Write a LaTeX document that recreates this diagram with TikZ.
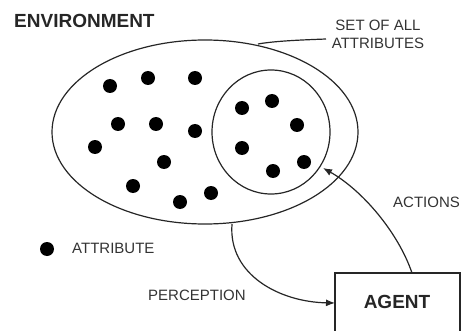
\documentclass[tikz,border=0pt]{standalone}
\usepackage{fontspec}
\setmainfont{Liberation Sans}
\usetikzlibrary{arrows.meta,shapes.geometric}
\begin{document}
\begin{tikzpicture}[x=1pt,y=-1pt,
  line/.style={line width=1.2pt,black!85},
  attr/.style={circle,fill=black,inner sep=0pt,minimum size=14pt},
  lbl/.style={font=\fontsize{15}{18}\selectfont,text=black!80,inner sep=0pt},
  arr/.style={line,-{Latex[length=9pt,width=7pt]}}]
\useasboundingbox (0,0) rectangle (462,331);
\clip (0,0) rectangle (462,331);
% ellipses
\node[draw,line,ellipse,minimum width=306pt,minimum height=184pt,inner sep=0pt] (env) at (205,132) {};
\node[draw,line,ellipse,minimum width=118pt,minimum height=124pt,inner sep=0pt] (inner) at (271,132) {};
% dots
\foreach \p [count=\i] in {(110,86),(148,78),(195,78),(118,124),(156,124),(195,131),(95,147),(164,162),(133,186),(180,202),(211,193),
  (242,108),(272,101),(297,125),(242,148),(273,171),(304,162)}
  \node[attr] (d\i) at \p {};
% labels
\node[anchor=west,font=\bfseries\fontsize{19}{22}\selectfont,text=black!85,inner sep=0pt] (envlbl) at (14,21) {ENVIRONMENT};
\node[lbl,align=center] (setlbl) at (378,34) {SET OF ALL\\ATTRIBUTES};
\node[attr] (legdot) at (47,249) {};
\node[lbl,anchor=west] (attrlbl) at (72,248) {ATTRIBUTE};
\node[lbl,anchor=west] (perclbl) at (148,295) {PERCEPTION};
\node[lbl,anchor=west] (actlbl) at (393,202) {ACTIONS};
% agent box
\draw[line] (335,345) |- (460,273) -- (460,345);
\node[font=\bfseries\fontsize{19}{22}\selectfont,text=black!85,inner sep=0pt] (agent) at (397,302) {AGENT};
\coordinate (boxtop) at (412,273);
\coordinate (boxleft) at (335,303);
\coordinate (envbot) at (232,224);
\coordinate (ptr) at (258,44);
\coordinate (ptrs) at (326,39);
% connectors
\draw[line] (ptrs) .. controls (300,40) and (275,41) .. (ptr);
\draw[arr] (envbot) .. controls (228,275) and (280,302) .. (boxleft);
\draw[arr] (boxtop) .. controls (398,232) and (362,190) .. (323,168);
\end{tikzpicture}
\end{document}
